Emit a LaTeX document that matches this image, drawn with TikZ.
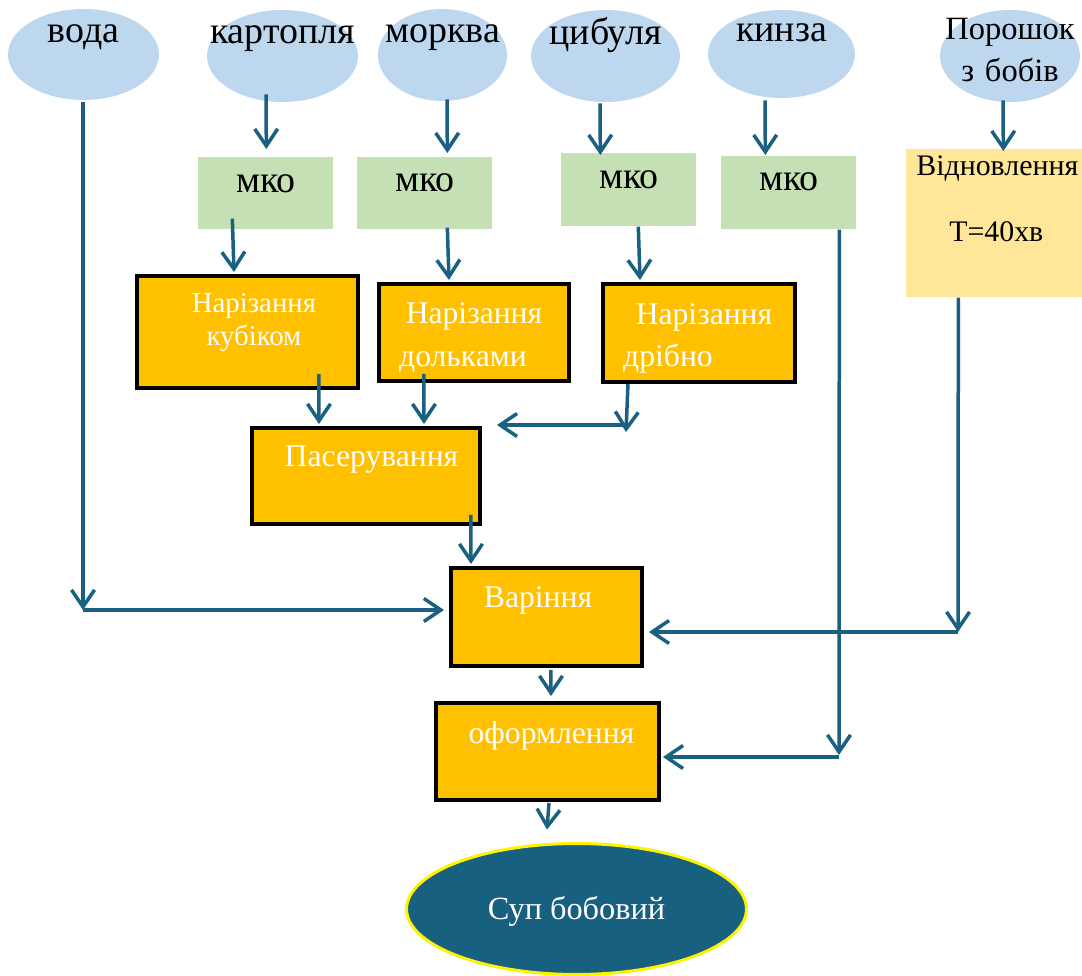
\documentclass[tikz,border=0pt]{standalone}
\usepackage{fontspec}
\setmainfont{Liberation Serif}
\usetikzlibrary{arrows.meta,calc,shapes.geometric}
\definecolor{ingc}{HTML}{BDD7EE}
\definecolor{mkoc}{HTML}{C5E0B4}
\definecolor{orc}{HTML}{FFC000}
\definecolor{vidc}{HTML}{FFE699}
\definecolor{arrc}{RGB}{26,96,128}
\definecolor{soupc}{RGB}{24,96,128}
\begin{document}
\begin{tikzpicture}[x=0.02cm,y=-0.02cm,
  ing/.style={ellipse, fill=ingc, inner sep=0pt, text height=0pt, font=\fontsize{21.6}{25}\selectfont},
  mko/.style={rectangle, fill=mkoc, inner sep=0pt, anchor=north west, text width=2.70cm, align=center, font=\fontsize{21.6}{25}\selectfont},
  proc/.style={rectangle, fill=orc, draw=black, line width=0.08cm, inner sep=0pt, anchor=north west, align=center, text=white},
  arr/.style={draw=arrc, line width=0.07cm, -{Straight Barb[length=0.34cm,width=0.46cm]}}
]
\useasboundingbox (0,0) rectangle (1082,976);

% ingredients
\node[ing, minimum width=3.02cm, minimum height=1.82cm, text depth=0.46cm] (voda) at (83.5,54.5) {\makebox[0pt]{вода}};
\node[ing, minimum width=3.02cm, minimum height=1.84cm, text depth=0.48cm] (kart) at (282.5,56) {\makebox[0pt]{картопля}};
\node[ing, minimum width=2.58cm, minimum height=1.84cm, text depth=0.48cm] (mork) at (442.5,55) {\makebox[0pt]{морква}};
\node[ing, minimum width=2.98cm, minimum height=1.84cm, text depth=0.44cm] (cyb) at (605.5,56) {\makebox[0pt]{цибуля}};
\node[ing, minimum width=2.94cm, minimum height=1.76cm, text depth=0.48cm] (kinz) at (781.5,54) {\makebox[0pt]{кинза}};
\node[ing, minimum width=2.80cm, minimum height=1.84cm, text width=0pt, align=center, text depth=0.64cm, font=\fontsize{18.5}{23.8}\selectfont] (por) at (1010,56) {\makebox[0pt]{Порошок}\\\makebox[0pt]{з бобів}};

% mko boxes
\node[mko, text height=0.70cm, text depth=0.74cm] (mko1) at (198,157) {мко};
\node[mko, text height=0.68cm, text depth=0.76cm] (mko2) at (357,157) {мко};
\node[mko, text height=0.70cm, text depth=0.76cm] (mko3) at (561,153) {мко};
\node[mko, text height=0.68cm, text depth=0.78cm] (mko4) at (721,156) {мко};
\node[rectangle, fill=vidc, inner sep=0pt, anchor=north west, text width=3.52cm, align=center, text height=0.52cm, text depth=2.44cm, font=\fontsize{17}{37.4}\selectfont] (vidn) at (906,149) {\hspace*{0.12cm}Відновлення\\\hspace*{0.08cm}Т=40хв};

% process boxes
\node[proc, text width=4.42cm, text height=0.74cm, text depth=1.50cm, font=\fontsize{16.4}{18.7}\selectfont] (kub) at (135,274) {\hspace*{0.26cm}Нарізання\\\hspace*{0.26cm}кубіком};
\node[proc, text width=3.80cm, text height=0.80cm, text depth=1.14cm, font=\fontsize{18}{24.4}\selectfont] (dol) at (377,282) {Нарізання\\\hspace*{-0.44cm}дольками};
\node[proc, text width=3.84cm, text height=0.82cm, text depth=1.14cm, font=\fontsize{18}{23.8}\selectfont] (dri) at (601,282) {\hspace*{0.2cm}Нарізання\\\hspace*{-1.24cm}дрібно};
\node[proc, text width=4.56cm, text height=0.78cm, text depth=1.14cm, font=\fontsize{18}{21}\selectfont] (pas) at (250,426) {\hspace*{0.22cm}Пасерування};
\node[proc, text width=3.82cm, text height=0.80cm, text depth=1.16cm, font=\fontsize{18}{21}\selectfont] (var) at (449,566) {\hspace*{-0.34cm}Варіння};
\node[proc, text width=4.46cm, text height=0.82cm, text depth=1.12cm, font=\fontsize{18}{21}\selectfont] (ofo) at (434,701) {\hspace*{0.16cm}оформлення};

% result
\node[ellipse, fill=soupc, draw=yellow, line width=0.06cm, inner sep=0pt, minimum width=6.80cm, minimum height=2.62cm, text height=0.40cm, text depth=0pt, text=white, font=\fontsize{18.4}{22}\selectfont] (soup) at (576.5,909) {\makebox[0pt]{Суп бобовий}};

% corner points
\coordinate (cV) at (83,610);
\coordinate (cD) at (626,425);
\coordinate (cP) at (958,632);
\coordinate (cK) at (839,757);

% connectors
\draw[arr] ($(voda.south)+(-0.5,2)$) -- (cV);
\draw[arr, shorten >=0.1cm] (cV) -- (cV -| var.west);
\draw[arr] ($(kart.south)+(-16.5,-8)$) -- ($(mko1.north)+(0.5,-8)$);
\draw[arr] ($(mork.south)+(4.5,-2)$) -- ($(mko2.north)+(22.5,-4)$);
\draw[arr] ($(cyb.south)+(-5.5,1)$) -- ($(mko3.north)+(-28.5,2)$);
\draw[arr] ($(kinz.south)+(-16.5,2)$) -- ($(mko4.north)+(-23.5,-1)$);
\draw[arr] ($(por.south)+(-7,-2)$) -- ($(vidn.north)+(9,2)$);
\draw[arr] ($(mko1.south)+(-33.5,-11)$) -- ($(kub.north)+(-13.5,-2)$);
\draw[arr] ($(mko2.south)+(22.5,-2)$) -- ($(dol.north)+(-25,-2)$);
\draw[arr] ($(mko3.south)+(9.5,0)$) -- ($(dri.north)+(-59,-2)$);
\draw[arr] ($(kub.south)+(71.5,-16)$) -- ($(pas.north)+(-47,-2)$);
\draw[arr] ($(dol.south)+(-50,-9)$) -- ($(pas.north)+(58,-2)$);
\draw[arr] ($(dri.south)+(-71,0)$) -- ($(cD)+(0,7)$);
\draw[arr] (cD) -- ($(cD -| pas.east)+(15,0)$);
\draw[arr] ($(pas.south)+(105,-11)$) -- ($(var.north)+(-75.5,-2)$);
\draw[arr] ($(vidn.south)+(-36,0)$) -- (cP);
\draw[arr] (cP) -- ($(cP -| var.east)+(5,0)$);
\draw[arr] ($(var.south)+(4.5,2)$) -- ($(ofo.north)+(3.5,-5)$);
\draw[arr] ($(mko4.south)+(50.5,0)$) -- ($(cK)+(0,-2)$);
\draw[arr] (cK) -- ($(cK -| ofo.east)+(2,0)$);
\draw[arr] ($(ofo.south)+(1.5,1)$) -- ($(soup.north)+(-29.5,-12.5)$);
\end{tikzpicture}
\end{document}
